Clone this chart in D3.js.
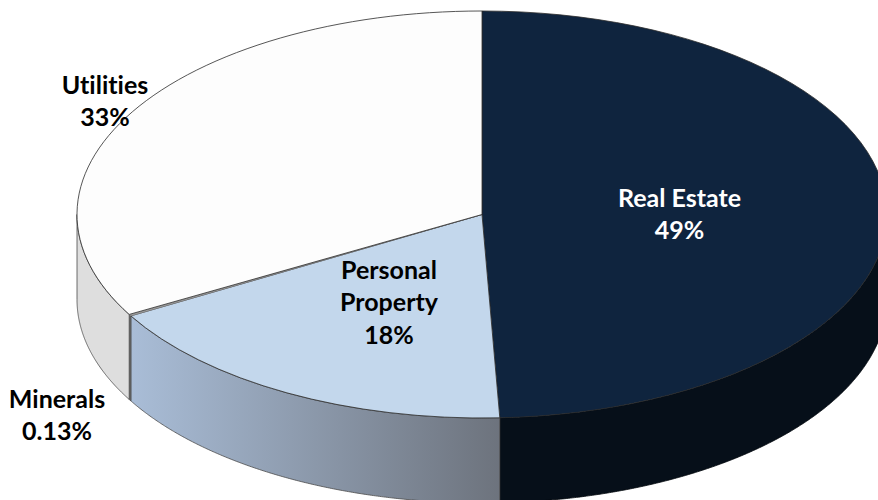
<!DOCTYPE html>
<html>
<head>
    <meta charset="utf-8">
    <script src="https://d3js.org/d3.v7.min.js"></script>
    <style>
        html, body { margin: 0; padding: 0; background: #fff; }
    </style>
</head>
<body>
    <script type="text/javascript">
        // Slice values (labels are the rounded figures)
        const categories = ["Real Estate", "Personal Property", "Minerals", "Utilities"];
        const values = [49.3, 17.4, 0.13, 33.17];
        const topColors = ["#0f243e", "#c3d7ec", "#a0a0a0", "#fdfdfd"];
        const sideColors = ["#060f19", "url(#personalSide)", "#6f6f6f", "#dedede"];
        const labelLines = [["Real Estate", "49%"], ["Personal", "Property", "18%"], ["Minerals", "0.13%"], ["Utilities", "33%"]];
        const labelColors = ["#ffffff", "#000000", "#000000", "#000000"];
        const labelCenters = [[679.5, 196.5], [389, 268.5], [57, 397.5], [105, 83.5]];

        const width = 878;
        const height = 500;
        const cx = 482;
        const cy = 214.5;
        const rx = 405;
        const ry = 203.5;
        const depth = 85;

        const svg = d3.select("body").append("svg")
            .attr("width", width)
            .attr("height", height)
            .style("display", "block");

        const grad = svg.append("defs").append("linearGradient")
            .attr("id", "personalSide")
            .attr("gradientUnits", "userSpaceOnUse")
            .attr("x1", 131).attr("x2", 500)
            .attr("y1", 0).attr("y2", 0);
        grad.append("stop").attr("offset", 0).attr("stop-color", "#a9bdd7");
        grad.append("stop").attr("offset", 1).attr("stop-color", "#6d737d");

        const slices = d3.pie().sort(null)(values);

        // rim of the tilted pie, angle measured clockwise from the top
        const rimX = a => cx + rx * Math.sin(a);
        const rimY = a => cy - ry * Math.cos(a);

        const side = d3.area()
            .x(rimX)
            .y0(rimY)
            .y1(a => rimY(a) + depth);

        // Side walls only show on the front half of the ellipse
        const front = svg.append("g");
        slices.forEach((s, i) => {
            const a0 = Math.max(s.startAngle, Math.PI / 2);
            const a1 = Math.min(s.endAngle, Math.PI * 3 / 2);
            if (a1 <= a0) return;
            const steps = d3.range(a0, a1, 0.005).concat([a1]);
            front.append("path")
                .attr("d", side(steps))
                .attr("fill", sideColors[i])
                .attr("stroke", i === 0 ? "#03070c" : "#4a4a4a")
                .attr("stroke-width", 0.8)
                .attr("stroke-linejoin", "round");
        });

        // Top surface: ordinary arcs squashed into an ellipse
        const arc = d3.arc().innerRadius(0).outerRadius(rx);
        svg.append("g")
            .attr("transform", `translate(${cx},${cy}) scale(1,${ry / rx})`)
            .selectAll("path")
            .data(slices)
            .join("path")
                .attr("d", arc)
                .attr("fill", (d, i) => topColors[i])
                .attr("stroke", (d, i) => i === 2 ? "#777777" : "#2b2b2b")
                .attr("stroke-width", (d, i) => i === 2 ? 0.5 : 0.8)
                .attr("vector-effect", "non-scaling-stroke");

        // Labels
        const labels = svg.append("g")
            .style("font-family", "Lato, sans-serif")
            .style("font-weight", 700)
            .style("font-size", "25px")
            .style("font-variant-ligatures", "none")
            .attr("text-anchor", "middle");

        labelLines.forEach((lines, i) => {
            const text = labels.append("text")
                .attr("fill", labelColors[i])
                .attr("y", labelCenters[i][1])
                .attr("dominant-baseline", "central");
            lines.forEach((line, j) => {
                text.append("tspan")
                    .attr("x", labelCenters[i][0])
                    .attr("y", labelCenters[i][1] + j * 32.5)
                    .text(line);
            });
        });
    </script>
</body>
</html>
